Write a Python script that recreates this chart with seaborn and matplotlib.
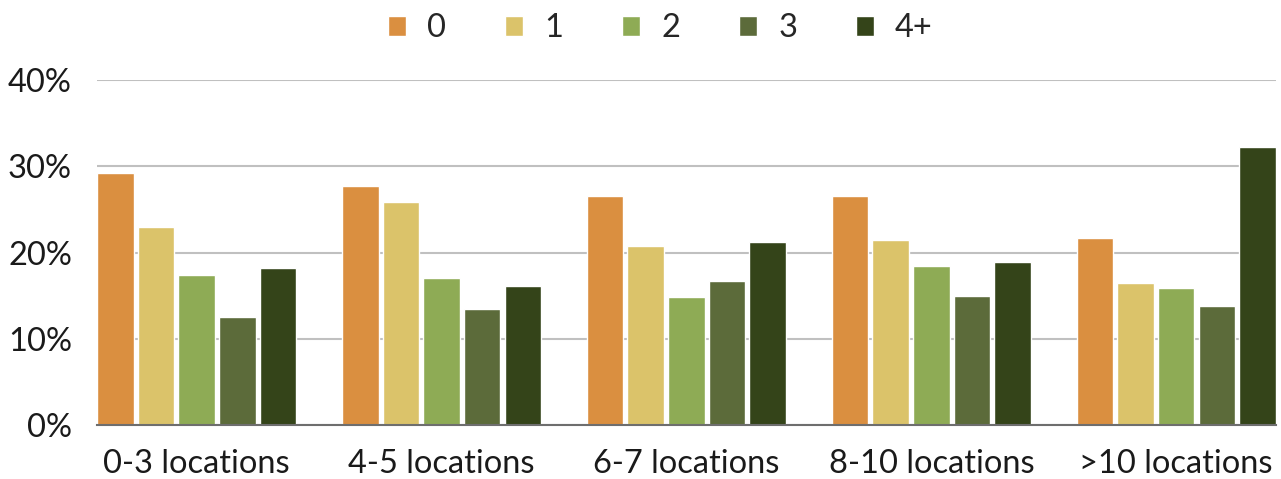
import matplotlib
matplotlib.use("Agg")
import matplotlib.pyplot as plt
from matplotlib.ticker import FuncFormatter
import pandas as pd
import seaborn as sns

# Share of respondents (%) by number of locations and count bucket
groups = ["0-3 locations", "4-5 locations", "6-7 locations", "8-10 locations", ">10 locations"]
series = ["0", "1", "2", "3", "4+"]
s0 = [29.2, 27.7, 26.6, 26.5, 21.7]
s1 = [22.9, 25.9, 20.7, 21.4, 16.5]
s2 = [17.4, 17.0, 14.8, 18.4, 15.9]
s3 = [12.5, 13.5, 16.7, 14.9, 13.8]
s4 = [18.2, 16.1, 21.2, 18.9, 32.2]
yticks = [0, 10, 20, 30, 40]

colors = ["#DA8F40", "#DBC36A", "#8EAB55", "#5C6B3A", "#344419"]

rows = []
for name, vals in zip(series, [s0, s1, s2, s3, s4]):
    for g, v in zip(groups, vals):
        rows.append({"group": g, "series": name, "value": v})
df = pd.DataFrame(rows)

sns.set_theme(style="white")
plt.rcParams["font.family"] = ["Lato", "DejaVu Sans"]

fig = plt.figure(figsize=(12.81, 4.79), dpi=100)
ax = fig.add_axes([0.0757, 0.1127, 0.9203, 0.7203])

sns.barplot(data=df, x="group", y="value", hue="series", order=groups,
            hue_order=series, palette=colors, width=0.83, gap=0.1,
            saturation=1, ax=ax, legend=True)

ax.set_xlim(-0.407, len(groups) - 1 + 0.407)
ax.set_ylim(0, 40)
ax.set_yticks(yticks)
ax.yaxis.set_major_formatter(FuncFormatter(lambda v, p: f"{v:.0f}%"))
ax.set_xlabel("")
ax.set_ylabel("")
ax.grid(axis="y", color="#C0C0C0", linewidth=1.5)
ax.set_axisbelow(True)
for side in ["top", "right", "left"]:
    ax.spines[side].set_visible(False)
ax.spines["bottom"].set_color("#6E6E6E")
ax.spines["bottom"].set_linewidth(1.5)
ax.spines["bottom"].set_zorder(5)
ax.tick_params(axis="y", length=0, pad=18, labelsize=23.5, labelcolor="#1a1a1a")
ax.tick_params(axis="x", length=0, pad=17, labelsize=23.5, labelcolor="#1a1a1a")

handles, labels = ax.get_legend_handles_labels()
ax.legend(handles, labels, loc="center", bbox_to_anchor=(0.478, 1.15),
          ncol=5, frameon=False, fontsize=23.5, handlelength=0.55,
          handleheight=0.55, handletextpad=0.65, columnspacing=1.8,
          borderaxespad=0, borderpad=0)

fig.savefig("out.png", dpi=100)
